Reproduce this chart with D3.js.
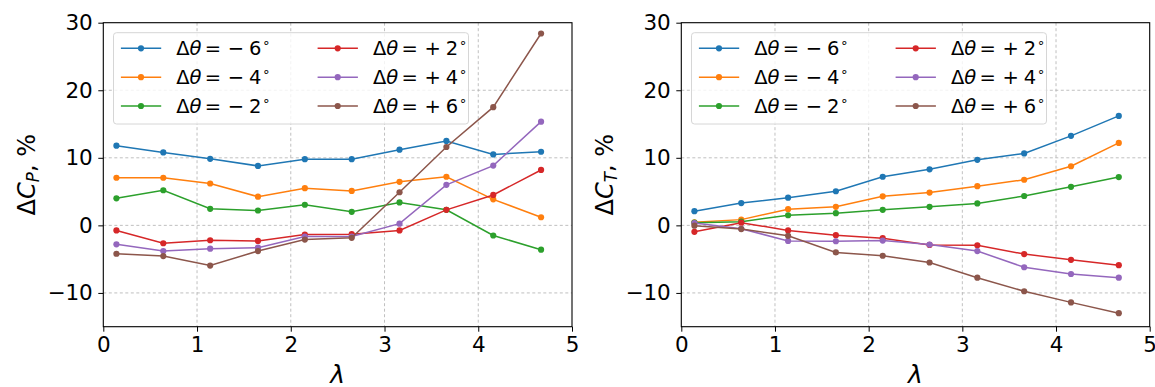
<!DOCTYPE html>
<html>
<head>
<meta charset="utf-8">
<script src="https://cdn.jsdelivr.net/npm/d3@7"></script>
<style>
  html, body { margin: 0; padding: 0; background: #fff; }
  svg { display: block; font-family: "DejaVu Sans", sans-serif; }
</style>
</head>
<body>
<svg id="chart" width="1155" height="387"></svg>
<script>
// Tip speed ratio values shared by both panels
const lambda = [0.14, 0.64, 1.14, 1.65, 2.15, 2.65, 3.16, 3.66, 4.16, 4.67];

// Pitch offsets (degrees) and their colours
const pitchOffsets = [-6, -4, -2, 2, 4, 6];
const seriesColors = ["#1f77b4", "#ff7f0e", "#2ca02c", "#d62728", "#9467bd", "#8c564b"];

// Power coefficient change, %
const cpMinus6 = [11.8, 10.8, 9.85, 8.8, 9.8, 9.8, 11.2, 12.5, 10.5, 10.9];
const cpMinus4 = [7.05, 7.05, 6.2, 4.25, 5.5, 5.1, 6.45, 7.2, 3.85, 1.2];
const cpMinus2 = [4.0, 5.2, 2.45, 2.2, 3.05, 2.0, 3.4, 2.3, -1.5, -3.6];
const cpPlus2  = [-0.75, -2.65, -2.2, -2.3, -1.35, -1.3, -0.75, 2.3, 4.5, 8.2];
const cpPlus4  = [-2.8, -3.8, -3.45, -3.3, -1.65, -1.65, 0.25, 6.0, 8.85, 15.35];
const cpPlus6  = [-4.2, -4.55, -5.95, -3.8, -2.1, -1.85, 4.9, 11.6, 17.5, 28.4];

// Thrust coefficient change, %
const ctMinus6 = [2.1, 3.3, 4.1, 5.05, 7.2, 8.3, 9.7, 10.65, 13.25, 16.2];
const ctMinus4 = [0.45, 0.85, 2.4, 2.75, 4.3, 4.85, 5.8, 6.75, 8.75, 12.2];
const ctMinus2 = [0.4, 0.55, 1.5, 1.8, 2.3, 2.75, 3.25, 4.35, 5.7, 7.15];
const ctPlus2  = [-0.95, 0.4, -0.75, -1.45, -1.9, -2.9, -2.95, -4.25, -5.1, -5.9];
const ctPlus4  = [0.35, -0.5, -2.3, -2.35, -2.25, -2.85, -3.8, -6.2, -7.2, -7.75];
const ctPlus6  = [-0.05, -0.55, -1.55, -4.0, -4.5, -5.5, -7.75, -9.75, -11.4, -13.0];

// Axis ticks
const xTicks = [0, 1, 2, 3, 4, 5];
const yTicks = [-10, 0, 10, 20, 30];
const xDomain = [0, 5];
const yDomain = [-15, 30];

const panels = [
  { sub: "P", left: 103.3, right: 572, series: [cpMinus6, cpMinus4, cpMinus2, cpPlus2, cpPlus4, cpPlus6] },
  { sub: "T", left: 681.3, right: 1149.7, series: [ctMinus6, ctMinus4, ctMinus2, ctPlus2, ctPlus4, ctPlus6] }
];

const plotTop = 22.7, plotBottom = 326.7;
const svg = d3.select("#chart");
const fmt = v => (v < 0 ? "\u2212" + Math.abs(v) : String(v));

panels.forEach(p => {
  const x = d3.scaleLinear().domain(xDomain).range([p.left, p.right]);
  const y = d3.scaleLinear().domain(yDomain).range([plotBottom, plotTop]);
  const g = svg.append("g");

  // Grid
  g.append("g").selectAll("line").data(xTicks.filter(t => t > 0 && t < 5)).join("line")
    .attr("x1", d => x(d)).attr("x2", d => x(d)).attr("y1", plotTop).attr("y2", plotBottom)
    .attr("stroke", "#b0b0b0").attr("stroke-width", 0.8).attr("stroke-dasharray", "3,2.5");
  g.append("g").selectAll("line").data(yTicks.filter(t => t < 30)).join("line")
    .attr("x1", p.left).attr("x2", p.right).attr("y1", d => y(d)).attr("y2", d => y(d))
    .attr("stroke", "#b0b0b0").attr("stroke-width", 0.8).attr("stroke-dasharray", "3,2.5");

  // Axes
  const xAxis = d3.axisBottom(x).tickValues(xTicks).tickFormat(fmt).tickSize(5).tickPadding(5);
  const yAxis = d3.axisLeft(y).tickValues(yTicks).tickFormat(fmt).tickSize(5).tickPadding(5.5);
  const gx = g.append("g").attr("transform", `translate(0,${plotBottom})`).call(xAxis);
  const gy = g.append("g").attr("transform", `translate(${p.left},0)`).call(yAxis);
  [gx, gy].forEach(a => {
    a.select(".domain").remove();
    a.selectAll("line").attr("stroke", "#000").attr("stroke-width", 1);
    a.selectAll("text").attr("font-size", 21.5).attr("fill", "#000")
      .attr("font-family", "DejaVu Sans, sans-serif");
  });

  // Series
  const line = d3.line().x((d, i) => x(lambda[i])).y(d => y(d));
  p.series.forEach((vals, k) => {
    const sg = g.append("g");
    sg.append("path").datum(vals).attr("d", line).attr("fill", "none")
      .attr("stroke", seriesColors[k]).attr("stroke-width", 1.5);
    sg.selectAll("circle").data(vals).join("circle")
      .attr("cx", (d, i) => x(lambda[i])).attr("cy", d => y(d)).attr("r", 3.1)
      .attr("fill", seriesColors[k]);
  });

  // Frame
  g.append("rect").attr("x", p.left).attr("y", plotTop)
    .attr("width", p.right - p.left).attr("height", plotBottom - plotTop)
    .attr("fill", "none").attr("stroke", "#000").attr("stroke-width", 1.1);

  // Legend (two columns of three entries)
  const lx = p.left + 10.2, ly = 32.7, lw = 355, lh = 91.3;
  const lg = g.append("g");
  lg.append("rect").attr("x", lx).attr("y", ly).attr("width", lw).attr("height", lh)
    .attr("rx", 3).attr("fill", "#fff").attr("fill-opacity", 0.8)
    .attr("stroke", "#d6d6d6").attr("stroke-width", 1);
  pitchOffsets.forEach((off, k) => {
    const col = Math.floor(k / 3), row = k % 3;
    const cx = lx + col * 196.7;
    const cy = 48.3 + row * 28.85;
    lg.append("line").attr("x1", cx + 7.4).attr("x2", cx + 47.7).attr("y1", cy).attr("y2", cy)
      .attr("stroke", seriesColors[k]).attr("stroke-width", 1.5);
    lg.append("circle").attr("cx", cx + 27.5).attr("cy", cy).attr("r", 3.1).attr("fill", seriesColors[k]);
    const x0 = cx + 62.7, base = cy + 7;
    const t = lg.append("text").attr("y", base).attr("font-size", 19.5).attr("fill", "#000");
    t.append("tspan").attr("x", x0).text("\u0394");
    t.append("tspan").attr("font-style", "italic").text("\u03b8");
    t.append("tspan").attr("x", x0 + 28.5).text("=");
    t.append("tspan").attr("x", x0 + 51.5).text(off < 0 ? "\u2212" : "+");
    t.append("tspan").attr("x", x0 + 72.8).text(String(Math.abs(off)));
    t.append("tspan").attr("x", x0 + 86).attr("dy", -8).attr("font-size", 13).text("\u2218");
  });

  // Axis labels
  g.append("text").attr("x", (p.left + p.right) / 2).attr("y", 383)
    .attr("text-anchor", "middle").attr("font-size", 25).attr("font-style", "italic").text("\u03bb");
  const ylab = g.append("text")
    .attr("transform", `translate(${p.left - 68},${(plotTop + plotBottom) / 2}) rotate(-90)`)
    .attr("text-anchor", "middle").attr("font-size", 24);
  ylab.append("tspan").text("\u0394");
  ylab.append("tspan").attr("font-style", "italic").text("C");
  ylab.append("tspan").attr("font-style", "italic").attr("font-size", 16.8).attr("dy", 4).text(p.sub);
  ylab.append("tspan").attr("dy", -4).text(", %");
});
</script>
</body>
</html>
